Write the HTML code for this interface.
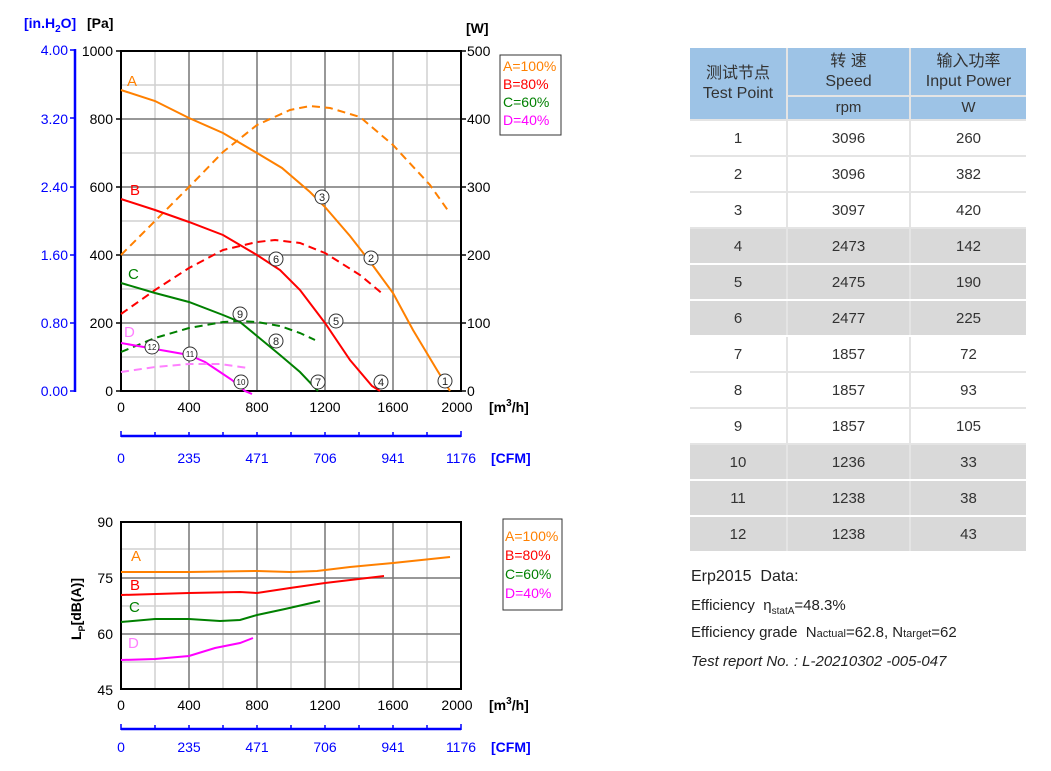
<!DOCTYPE html>
<html><head><meta charset="utf-8"><style>
body{margin:0;width:1051px;height:771px;background:#fff;overflow:hidden;position:relative;font-family:"Liberation Sans",sans-serif}
.t{position:absolute;white-space:nowrap}
table{position:absolute;left:690px;top:48px;border-collapse:collapse;font-family:"Liberation Sans","Noto Sans CJK SC",sans-serif;font-size:15px;color:#333}
td{text-align:center;padding:2px 0 0 0;border-bottom:2px solid #e4e4e4;border-right:2px solid #e4e4e4;height:32px;line-height:18px}
td:last-child{border-right:none}
.h td{background:#9dc3e6;border-color:#e4e4e4;line-height:20px;padding:0}
.h2 td{height:22px;line-height:22px}
.g td{background:#d9d9d9;border-bottom-color:#fff}
.info{font-family:"Liberation Sans","Noto Sans CJK SC",sans-serif;color:#222}
</style></head><body>
<svg width="1051" height="771" style="position:absolute;left:0;top:0" font-family="Liberation Sans, sans-serif">
<g stroke="#d0d0d0" stroke-width="1.5">
<line x1="155" y1="51" x2="155" y2="391"/><line x1="223" y1="51" x2="223" y2="391"/><line x1="291" y1="51" x2="291" y2="391"/><line x1="359" y1="51" x2="359" y2="391"/><line x1="427" y1="51" x2="427" y2="391"/>
<line x1="121" y1="85" x2="461" y2="85"/><line x1="121" y1="153" x2="461" y2="153"/><line x1="121" y1="221" x2="461" y2="221"/><line x1="121" y1="289" x2="461" y2="289"/><line x1="121" y1="357" x2="461" y2="357"/>
</g>
<g stroke="#777" stroke-width="1.5">
<line x1="189" y1="51" x2="189" y2="391"/><line x1="257" y1="51" x2="257" y2="391"/><line x1="325" y1="51" x2="325" y2="391"/><line x1="393" y1="51" x2="393" y2="391"/>
<line x1="121" y1="119" x2="461" y2="119"/><line x1="121" y1="187" x2="461" y2="187"/><line x1="121" y1="255" x2="461" y2="255"/><line x1="121" y1="323" x2="461" y2="323"/>
</g>
<rect x="121" y="51" width="340" height="340" fill="none" stroke="#000" stroke-width="2"/>
<g stroke="#000" stroke-width="1.5">
<line x1="116" y1="51" x2="121" y2="51"/><line x1="116" y1="119" x2="121" y2="119"/><line x1="116" y1="187" x2="121" y2="187"/><line x1="116" y1="255" x2="121" y2="255"/><line x1="116" y1="323" x2="121" y2="323"/><line x1="116" y1="391" x2="121" y2="391"/>
<line x1="461" y1="51" x2="466" y2="51"/><line x1="461" y1="119" x2="466" y2="119"/><line x1="461" y1="187" x2="466" y2="187"/><line x1="461" y1="255" x2="466" y2="255"/><line x1="461" y1="323" x2="466" y2="323"/><line x1="461" y1="391" x2="466" y2="391"/>
</g>
<line x1="75" y1="49" x2="75" y2="392" stroke="#0000ff" stroke-width="2.5"/>
<g stroke="#0000ff" stroke-width="1.5"><line x1="70" y1="50" x2="76" y2="50"/><line x1="70" y1="118" x2="76" y2="118"/><line x1="70" y1="187" x2="76" y2="187"/><line x1="70" y1="255" x2="76" y2="255"/><line x1="70" y1="323" x2="76" y2="323"/><line x1="70" y1="391" x2="76" y2="391"/></g>
<g fill="#0000ff" font-size="14" text-anchor="end"><text x="68" y="55">4.00</text><text x="68" y="124">3.20</text><text x="68" y="192">2.40</text><text x="68" y="260">1.60</text><text x="68" y="328">0.80</text><text x="68" y="396">0.00</text></g>
<g fill="#000" font-size="14" text-anchor="end"><text x="113" y="56">1000</text><text x="113" y="124">800</text><text x="113" y="192">600</text><text x="113" y="260">400</text><text x="113" y="328">200</text><text x="113" y="396">0</text></g>
<g fill="#000" font-size="14"><text x="467" y="56">500</text><text x="467" y="124">400</text><text x="467" y="192">300</text><text x="467" y="260">200</text><text x="467" y="328">100</text><text x="467" y="396">0</text></g>
<text x="24" y="28" fill="#0000ff" font-size="14" font-weight="bold">[in.H<tspan font-size="10" dy="4">2</tspan><tspan dy="-4">O]</tspan></text>
<text x="87" y="28" font-size="14" font-weight="bold">[Pa]</text>
<text x="466" y="33" font-size="14" font-weight="bold">[W]</text>
<g font-size="14" text-anchor="middle"><text x="121" y="412">0</text><text x="189" y="412">400</text><text x="257" y="412">800</text><text x="325" y="412">1200</text><text x="393" y="412">1600</text><text x="457" y="412">2000</text></g>
<text x="489" y="412" font-size="14" font-weight="bold">[m<tspan font-size="10" dy="-6">3</tspan><tspan dy="6">/h]</tspan></text>
<line x1="121" y1="436" x2="461" y2="436" stroke="#0000ff" stroke-width="2.5"/>
<g stroke="#0000ff" stroke-width="1.5"><line x1="121" y1="431" x2="121" y2="437"/><line x1="155" y1="432" x2="155" y2="437"/><line x1="189" y1="432" x2="189" y2="437"/><line x1="223" y1="432" x2="223" y2="437"/><line x1="257" y1="432" x2="257" y2="437"/><line x1="291" y1="432" x2="291" y2="437"/><line x1="325" y1="432" x2="325" y2="437"/><line x1="359" y1="432" x2="359" y2="437"/><line x1="393" y1="432" x2="393" y2="437"/><line x1="427" y1="432" x2="427" y2="437"/><line x1="461" y1="431" x2="461" y2="437"/></g>
<g fill="#0000ff" font-size="14" text-anchor="middle"><text x="121" y="463">0</text><text x="189" y="463">235</text><text x="257" y="463">471</text><text x="325" y="463">706</text><text x="393" y="463">941</text><text x="461" y="463">1176</text></g>
<text x="491" y="463" fill="#0000ff" font-size="14" font-weight="bold">[CFM]</text>
<g fill="none" stroke-width="2">
<polyline stroke="#ff8000" points="121,90 155,101 189,118 223,133 257,153 282,168 310,192 325,207 350,236 371,263 393,293 413,330 437,370 450,391"/>
<polyline stroke="#ff8000" stroke-dasharray="8,5" points="121,255 155,221 189,187 223,152 257,125 290,110 310,106 330,108 360,117 393,145 430,185 449,212"/>
<polyline stroke="#ff0000" points="121,199 155,210 189,222 223,235 257,255 280,270 300,290 325,323 350,360 372,386 380,391"/>
<polyline stroke="#ff0000" stroke-dasharray="8,5" points="121,314 155,290 189,268 223,250 257,242 275,240 300,243 325,253 360,275 384,295"/>
<polyline stroke="#008000" points="121,283 155,293 189,302 223,315 240,322 257,336 280,355 300,372 318,391"/>
<polyline stroke="#008000" stroke-dasharray="8,5" points="121,352 155,338 189,328 223,322 240,321 257,322 280,326 300,333 315,340"/>
<polyline stroke="#ff00ff" points="121,343 155,349 189,355 205,362 220,372 232,380 245,391 252,394"/>
<polyline stroke="#ff80ff" stroke-dasharray="8,5" points="121,372 155,367 189,364 220,364 248,368"/>
</g>
<g font-size="15"><text x="127" y="86" fill="#ff8000">A</text><text x="130" y="195" fill="#ff0000">B</text><text x="128" y="279" fill="#008000">C</text><text x="124" y="337" fill="#ff80ff">D</text></g>
<g fill="#fff" stroke="#333" stroke-width="1">
<circle cx="445" cy="381" r="7"/><circle cx="371" cy="258" r="7"/><circle cx="322" cy="197" r="7"/><circle cx="381" cy="382" r="7"/><circle cx="336" cy="321" r="7"/><circle cx="276" cy="259" r="7"/><circle cx="318" cy="382" r="7"/><circle cx="276" cy="341" r="7"/><circle cx="240" cy="314" r="7"/><circle cx="241" cy="382" r="7"/><circle cx="190" cy="354" r="7"/><circle cx="152" cy="347" r="7"/>
</g>
<g font-size="11" text-anchor="middle" fill="#222">
<text x="445" y="385">1</text><text x="371" y="262">2</text><text x="322" y="201">3</text><text x="381" y="386">4</text><text x="336" y="325">5</text><text x="276" y="263">6</text><text x="318" y="386">7</text><text x="276" y="345">8</text><text x="240" y="318">9</text><text x="241" y="385" font-size="8">10</text><text x="190" y="357" font-size="8">11</text><text x="152" y="350" font-size="8">12</text>
</g>
<rect x="500" y="55" width="61" height="80" fill="none" stroke="#333" stroke-width="1"/>
<g font-size="14"><text x="503" y="71" fill="#ff8000">A=100%</text><text x="503" y="89" fill="#ff0000">B=80%</text><text x="503" y="107" fill="#008000">C=60%</text><text x="503" y="125" fill="#ff00ff">D=40%</text></g>

<g stroke="#d0d0d0" stroke-width="1.5">
<line x1="155" y1="522" x2="155" y2="689"/><line x1="223" y1="522" x2="223" y2="689"/><line x1="291" y1="522" x2="291" y2="689"/><line x1="359" y1="522" x2="359" y2="689"/><line x1="427" y1="522" x2="427" y2="689"/>
<line x1="121" y1="549" x2="461" y2="549"/><line x1="121" y1="606" x2="461" y2="606"/><line x1="121" y1="662" x2="461" y2="662"/>
</g>
<g stroke="#777" stroke-width="1.5">
<line x1="189" y1="522" x2="189" y2="689"/><line x1="257" y1="522" x2="257" y2="689"/><line x1="325" y1="522" x2="325" y2="689"/><line x1="393" y1="522" x2="393" y2="689"/>
<line x1="121" y1="578" x2="461" y2="578"/><line x1="121" y1="634" x2="461" y2="634"/>
</g>
<rect x="121" y="522" width="340" height="167" fill="none" stroke="#000" stroke-width="2"/>
<g fill="#000" font-size="14" text-anchor="end"><text x="113" y="527">90</text><text x="113" y="583">75</text><text x="113" y="639">60</text><text x="113" y="695">45</text></g>
<text transform="translate(81,640) rotate(-90)" font-size="14" font-weight="bold">L<tspan font-size="9" dy="4">P</tspan><tspan dy="-4">[dB(A)]</tspan></text>
<g font-size="14" text-anchor="middle"><text x="121" y="710">0</text><text x="189" y="710">400</text><text x="257" y="710">800</text><text x="325" y="710">1200</text><text x="393" y="710">1600</text><text x="457" y="710">2000</text></g>
<text x="489" y="710" font-size="14" font-weight="bold">[m<tspan font-size="10" dy="-6">3</tspan><tspan dy="6">/h]</tspan></text>
<line x1="121" y1="729" x2="461" y2="729" stroke="#0000ff" stroke-width="2.5"/>
<g stroke="#0000ff" stroke-width="1.5"><line x1="121" y1="724" x2="121" y2="730"/><line x1="155" y1="725" x2="155" y2="730"/><line x1="189" y1="725" x2="189" y2="730"/><line x1="223" y1="725" x2="223" y2="730"/><line x1="257" y1="725" x2="257" y2="730"/><line x1="291" y1="725" x2="291" y2="730"/><line x1="325" y1="725" x2="325" y2="730"/><line x1="359" y1="725" x2="359" y2="730"/><line x1="393" y1="725" x2="393" y2="730"/><line x1="427" y1="725" x2="427" y2="730"/><line x1="461" y1="724" x2="461" y2="730"/></g>
<g fill="#0000ff" font-size="14" text-anchor="middle"><text x="121" y="752">0</text><text x="189" y="752">235</text><text x="257" y="752">471</text><text x="325" y="752">706</text><text x="393" y="752">941</text><text x="461" y="752">1176</text></g>
<text x="491" y="752" fill="#0000ff" font-size="14" font-weight="bold">[CFM]</text>
<g fill="none" stroke-width="2">
<polyline stroke="#ff8000" points="121,572 189,572 257,571 290,572 317,571 350,567 393,563 450,557"/>
<polyline stroke="#ff0000" points="121,595 189,593 240,592 257,593 290,588 325,583 384,576"/>
<polyline stroke="#008000" points="121,622 155,619 189,619 220,621 240,620 257,615 285,609 320,601"/>
<polyline stroke="#ff00ff" points="121,660 155,659 189,656 215,648 240,643 253,638"/>
</g>
<g font-size="15"><text x="131" y="561" fill="#ff8000">A</text><text x="130" y="590" fill="#ff0000">B</text><text x="129" y="612" fill="#008000">C</text><text x="128" y="648" fill="#ff80ff">D</text></g>
<rect x="503" y="519" width="59" height="91" fill="none" stroke="#333" stroke-width="1"/>
<g font-size="14"><text x="505" y="541" fill="#ff8000">A=100%</text><text x="505" y="560" fill="#ff0000">B=80%</text><text x="505" y="579" fill="#008000">C=60%</text><text x="505" y="598" fill="#ff00ff">D=40%</text></g>
</svg>

<table>
<tr class="h"><td rowspan="2" style="width:96px;height:70px;font-size:16px">测试节点<br>Test Point</td><td style="width:121px;height:47px;font-size:16px">转 速<br>Speed</td><td style="width:115px;height:47px;font-size:16px">输入功率<br>Input Power</td></tr>
<tr class="h h2"><td>rpm</td><td>W</td></tr>
<tr><td>1</td><td>3096</td><td>260</td></tr>
<tr><td>2</td><td>3096</td><td>382</td></tr>
<tr><td>3</td><td>3097</td><td>420</td></tr>
<tr class="g"><td>4</td><td>2473</td><td>142</td></tr>
<tr class="g"><td>5</td><td>2475</td><td>190</td></tr>
<tr class="g"><td>6</td><td>2477</td><td>225</td></tr>
<tr><td>7</td><td>1857</td><td>72</td></tr>
<tr><td>8</td><td>1857</td><td>93</td></tr>
<tr><td>9</td><td>1857</td><td>105</td></tr>
<tr class="g"><td>10</td><td>1236</td><td>33</td></tr>
<tr class="g"><td>11</td><td>1238</td><td>38</td></tr>
<tr class="g"><td>12</td><td>1238</td><td>43</td></tr>
</table>

<div class="t info" style="left:691px;top:568px;font-size:16px">Erp2015&nbsp; Data:</div>
<div class="t info" style="left:691px;top:597px;font-size:15px">Efficiency &nbsp;η<sub style="font-size:10px">statA</sub>=48.3%</div>
<div class="t info" style="left:691px;top:624px;font-size:15px">Efficiency grade &nbsp;N<span style="font-size:11px">actual</span>=62.8, N<span style="font-size:11px">target</span>=62</div>
<div class="t info" style="left:691px;top:653px;font-size:15px;font-style:italic">Test report No. : L-20210302 -005-047</div>
</body></html>
